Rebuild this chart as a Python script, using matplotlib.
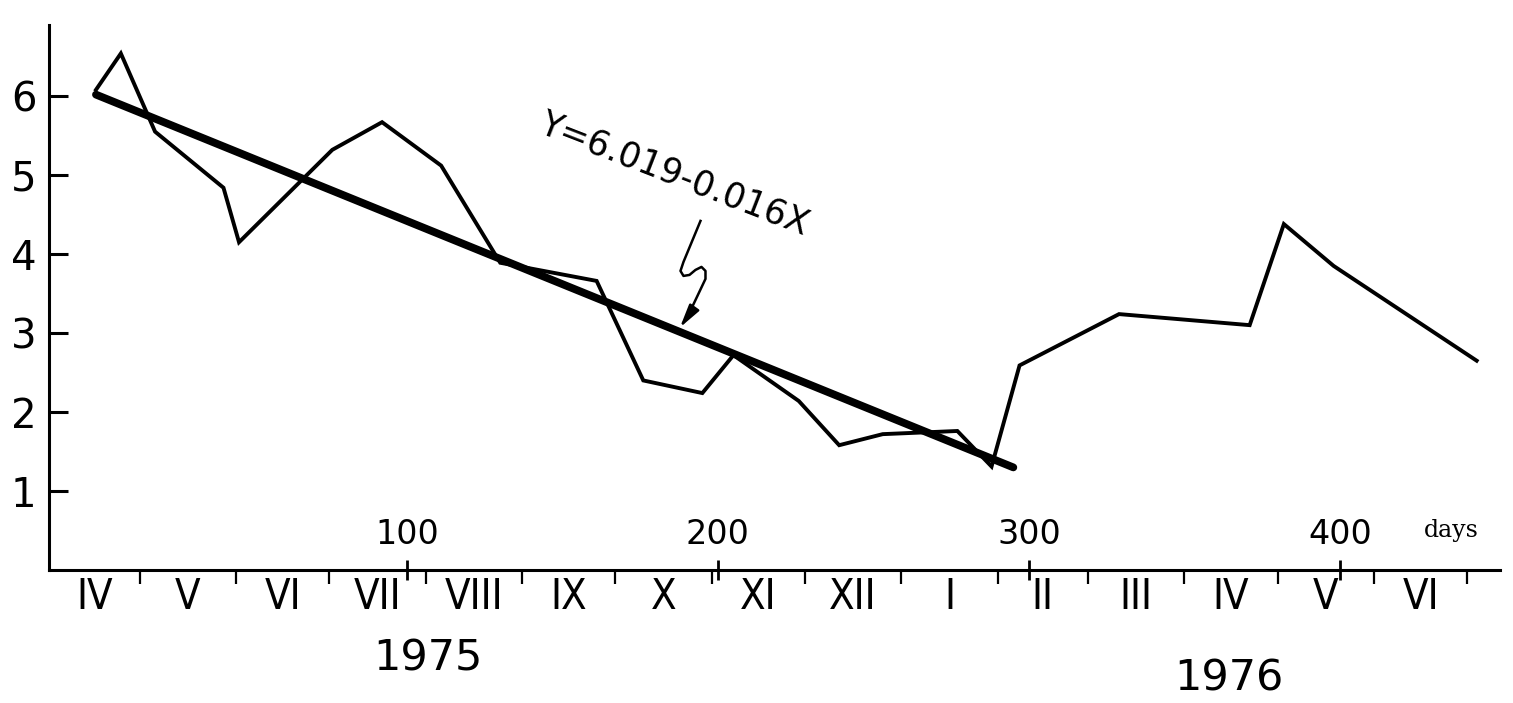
import matplotlib
matplotlib.use("Agg")
import matplotlib.pyplot as plt
import matplotlib.transforms as mtransforms

# Sampling days (day 0 = 17 April 1975) and measured values
days = [0, 8, 19, 41, 46, 76, 92, 111, 130, 161, 176, 195, 205, 226,
        239, 253, 277, 288, 297, 329, 371, 382, 398, 444]
values = [6.08, 6.54, 5.55, 4.84, 4.15, 5.32, 5.67, 5.12, 3.89, 3.66, 2.40,
          2.24, 2.72, 2.14, 1.58, 1.72, 1.76, 1.31, 2.59, 3.24, 3.10, 4.38,
          3.85, 2.65]

# Linear regression over the first year
fit_intercept = 6.019
fit_slope = -0.016
fit_range = [0, 295]
fit_label = "Y=6.019-0.016X"

# First day of each month, counted in days from day 0
month_starts = [14, 45, 75, 106, 137, 167, 198, 228, 259, 290, 319, 350,
                380, 411, 441]
month_names = ["IV", "V", "VI", "VII", "VIII", "IX", "X", "XI", "XII",
               "I", "II", "III", "IV", "V", "VI"]
day_ticks = [100, 200, 300, 400]
y_ticks = [1, 2, 3, 4, 5, 6]
years = ["1975", "1976"]
year_pos = [(106.7, -1.12), (364.2, -1.38)]

XMIN, XMAX = -15.1, 451.5
YMIN, YMAX = 0, 6.9

plt.rcParams["font.family"] = ["DejaVu Sans"]

fig = plt.figure(figsize=(15.13, 7.03), dpi=100)
ax = fig.add_axes([0.0324, 0.1892, 0.959, 0.7752])

# measured series
ax.plot(days, values, color="black", lw=2.8, solid_joinstyle="miter")

# regression line
fit_y = [fit_intercept + fit_slope * d for d in fit_range]
ax.plot(fit_range, fit_y, color="black", lw=5.6, solid_capstyle="round")

# equation label with a squiggly pointer onto the regression line
ax.text(186, 5.01, fit_label, rotation=-21.2, rotation_mode="anchor",
        ha="center", va="center", fontsize=25)
tip_x = 187
tip_y = fit_intercept + fit_slope * tip_x
squiggle = [(23, -110), (6, -69), (3, -60), (6, -55), (12, -56), (18, -61),
            (24, -64), (28, -60), (28, -52), (10, -14)]
tr = mtransforms.Affine2D().scale(1, -1) + \
    mtransforms.ScaledTranslation(tip_x, tip_y, ax.transData)
ax.plot([p[0] for p in squiggle], [p[1] for p in squiggle], color="black",
        lw=1.8, transform=tr, solid_joinstyle="round")
ax.annotate("", xy=(tip_x, tip_y), xytext=(10, 14), textcoords="offset pixels",
            arrowprops=dict(arrowstyle="-|>,head_length=1.4,head_width=0.35",
                            color="black", lw=1.8, shrinkA=0, shrinkB=3))

# axes frame
for side in ("top", "right"):
    ax.spines[side].set_visible(False)
for side in ("left", "bottom"):
    ax.spines[side].set_linewidth(2.2)

ax.set_yticks(y_ticks)
ax.tick_params(axis="y", direction="in", length=14, width=2.2, pad=9,
               labelsize=29)

# month boundaries (ticks) and month names (centred between them)
edges = [XMIN] + month_starts
mids = [(edges[i] + edges[i + 1]) / 2 for i in range(len(month_names))]
ax.set_xticks(month_starts)
ax.set_xticklabels([])
ax.tick_params(axis="x", which="major", direction="out", length=10, width=1.6)
ax.set_xticks(mids, minor=True)
ax.set_xticklabels(month_names, minor=True, fontstretch="condensed")
ax.tick_params(axis="x", which="minor", length=0, pad=4, labelsize=30)

# day scale drawn on the same baseline, labels above it
sec = ax.secondary_xaxis(0)
sec.set_xticks(day_ticks)
sec.xaxis.set_ticks_position("top")
sec.tick_params(axis="x", which="major", direction="inout", length=14,
                width=2.0, pad=6.5, labelsize=24)
for s in sec.spines.values():
    s.set_visible(False)
ax.text(436, 0.50, "days", family="DejaVu Serif", fontsize=17,
        ha="center", va="center")

for label, (x, y) in zip(years, year_pos):
    ax.text(x, y, label, ha="center", va="center", fontsize=31)

ax.set_xlim(XMIN, XMAX)
ax.set_ylim(YMIN, YMAX)

fig.savefig("out.png", dpi=100)
